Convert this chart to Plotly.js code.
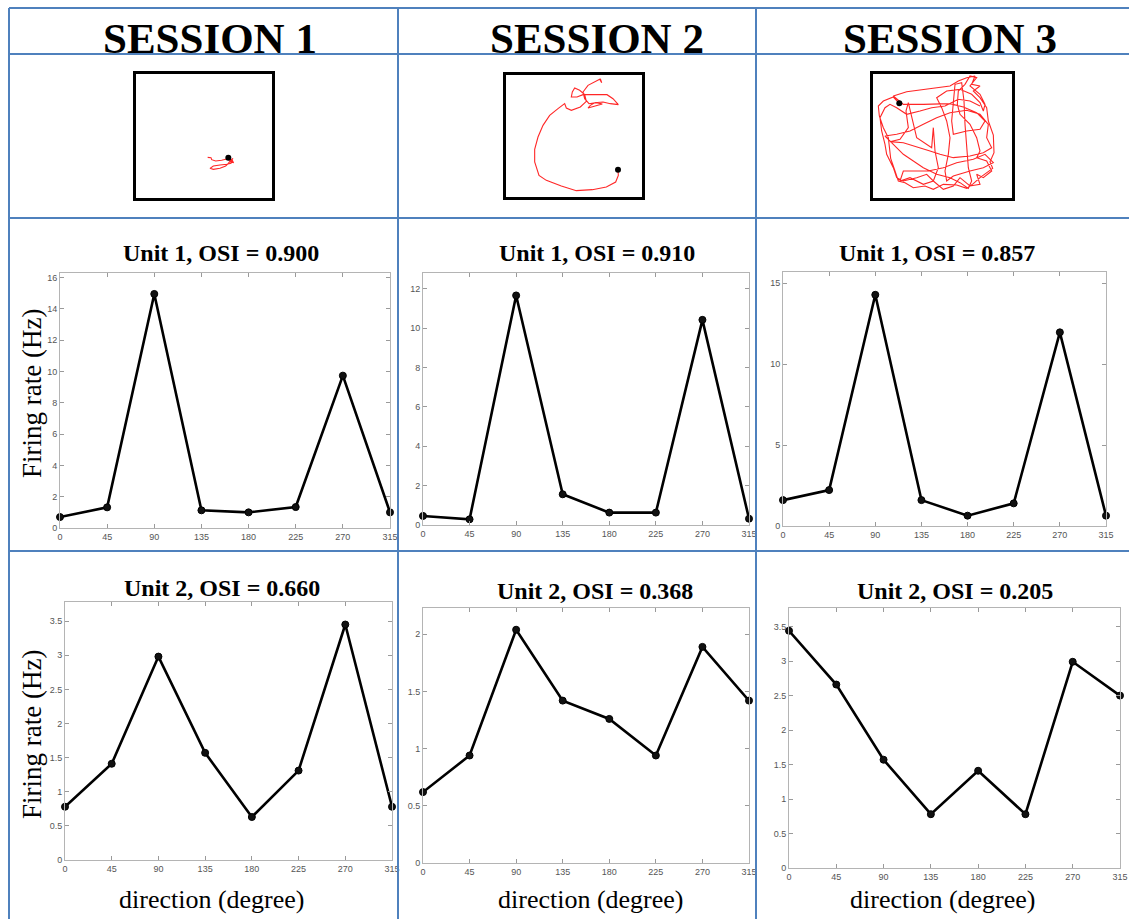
<!DOCTYPE html>
<html><head><meta charset="utf-8">
<script src="https://cdn.plot.ly/plotly-3.0.1.min.js"></script>
<style>html,body{margin:0;padding:0;background:#fff;}#chart{width:1129px;height:919px;}</style>
</head><body><div id="chart"></div>
<script>
// ---------------- data ----------------
const directions = [0, 45, 90, 135, 180, 225, 270, 315];
const sessionLabels = ['SESSION 1', 'SESSION 2', 'SESSION 3'];
const unit1Titles = ['Unit 1, OSI = 0.900', 'Unit 1, OSI = 0.910', 'Unit 1, OSI = 0.857'];
const unit2Titles = ['Unit 2, OSI = 0.660', 'Unit 2, OSI = 0.368', 'Unit 2, OSI = 0.205'];
const yAxisLabel = 'Firing rate (Hz)';
const xAxisLabel = 'direction (degree)';

// firing rates (Hz) per direction
const unit1Session1 = [0.70, 1.32, 14.96, 1.13, 1.00, 1.34, 9.74, 1.00];
const unit1Session2 = [0.46, 0.29, 11.66, 1.56, 0.63, 0.63, 10.42, 0.32];
const unit1Session3 = [1.60, 2.22, 14.29, 1.60, 0.64, 1.40, 11.97, 0.64];
const unit2Session1 = [0.78, 1.41, 2.98, 1.57, 0.63, 1.31, 3.45, 0.78];
const unit2Session2 = [0.62, 0.94, 2.04, 1.42, 1.26, 0.94, 1.89, 1.42];
const unit2Session3 = [3.44, 2.66, 1.57, 0.78, 1.41, 0.78, 2.99, 2.50];

// y tick values per panel
const yTicksU1S1 = [0, 2, 4, 6, 8, 10, 12, 14, 16];
const yTicksU1S2 = [0, 2, 4, 6, 8, 10, 12];
const yTicksU1S3 = [0, 5, 10, 15];
const yTicksU2S1 = [0, 0.5, 1, 1.5, 2, 2.5, 3, 3.5];
const yTicksU2S2 = [0, 0.5, 1, 1.5, 2];
const yTicksU2S3 = [0, 0.5, 1, 1.5, 2, 2.5, 3, 3.5];
const yMaxU1 = [16.3, 12.8, 15.7];
const yMaxU2 = [3.78, 2.23, 3.77];

// animal trajectories in the arena (arena units, y downward)
const traj1X = [224, 234, 236, 248, 266, 281, 289, 298, 294, 281, 261, 241, 231, 241, 261, 278, 286, 291, 300, 292, 302, 295, 288, 298, 290, 300];
const traj1Y = [259, 260, 266, 270, 268, 264, 267, 270, 277, 280, 282, 285, 292, 295, 292, 285, 277, 270, 262, 272, 275, 266, 262, 268, 274, 270];
const start1 = [286, 260];

const traj2X = [345, 346, 338, 310, 268, 220, 175, 130, 108, 95, 95, 105, 120, 140, 165, 185, 190, 205, 232, 250, 245, 230, 215, 208, 205, 222, 240, 270, 312, 330, 346, 322, 300, 275, 262, 255, 275, 298, 280, 258, 245, 240, 255, 275, 290, 296, 292];
const traj2Y = [293, 310, 330, 345, 353, 356, 342, 325, 310, 270, 232, 195, 160, 130, 110, 95, 108, 115, 105, 88, 68, 55, 48, 60, 75, 75, 68, 68, 68, 80, 98, 95, 90, 92, 100, 108, 102, 96, 92, 95, 80, 60, 40, 30, 22, 32, 20];
const start2 = [345, 293];

const traj3X = [88, 70, 40, 25, 28, 40, 55, 58, 62, 75, 85, 105, 130, 165, 190, 220, 260, 290, 310, 330, 350, 368, 360, 372, 370, 355, 350, 330, 310, 330, 305, 315, 290, 265, 240, 200, 150, 110, 70, 100, 160, 240, 280, 320, 345, 330, 290, 250, 245, 250, 255, 275, 282, 285, 290, 295, 305, 295, 270, 240, 200, 160, 130, 100, 70, 45, 80, 120, 160, 200, 240, 290, 330, 355, 350, 365, 340, 300, 250, 210, 180, 130, 100, 60, 90, 115, 108, 115, 125, 130, 140, 185, 190, 195, 205, 190, 160, 120, 90, 100, 130, 175, 220, 260, 310, 345, 370, 340, 300, 250, 230, 225, 235, 240, 230, 215, 200, 230, 270, 305, 330, 340,
  345, 330, 300, 320, 300, 285, 265, 262, 270, 300, 320, 330, 320, 350, 365, 340, 320, 330, 300, 270, 250, 220, 190, 170, 140, 100, 80, 70, 50, 45, 35, 30, 45, 60, 80, 110, 150, 185, 225, 265, 300, 330];
const traj3Y = [97, 78, 90, 105, 135, 170, 200, 230, 262, 300, 330, 335, 350, 345, 355, 340, 342, 352, 338, 320, 305, 292, 272, 245, 192, 150, 110, 80, 60, 45, 40, 15, 20, 30, 45, 50, 55, 62, 75, 100, 100, 98, 108, 125, 150, 175, 180, 190, 150, 90, 40, 35, 90, 160, 230, 290, 330, 352, 335, 320, 310, 290, 270, 250, 220, 195, 190, 180, 160, 140, 125, 118, 130, 160, 200, 230, 245, 255, 260, 250, 240, 225, 215, 212, 205, 170, 120, 95, 140, 165, 200, 230, 170, 240, 290, 330, 340, 320, 330, 300, 300, 300, 290, 275, 265, 250, 275, 290, 300, 315, 330, 300, 250, 200, 150, 110, 80, 60, 55, 70, 95, 120,
  100, 70, 45, 20, 15, 40, 60, 100, 130, 160, 200, 240, 260, 270, 300, 320, 310, 340, 345, 320, 345, 355, 330, 310, 320, 330, 320, 290, 250, 220, 180, 140, 110, 100, 110, 130, 120, 110, 105, 85, 90, 105];
const start3 = [88, 97];

// ---------------- layout helpers ----------------
const W = 1129, H = 919;
const px = x => x / W;
const py = y => 1 - y / H;
const serif = 'Liberation Serif, Times New Roman, serif';
const sans = 'Liberation Sans, Arial, sans-serif';

const panels = [
  {vals: unit1Session1, ticks: yTicksU1S1, ymax: yMaxU1[0], box: [60, 390, 273, 528]},
  {vals: unit1Session2, ticks: yTicksU1S2, ymax: yMaxU1[1], box: [423, 749, 273, 525]},
  {vals: unit1Session3, ticks: yTicksU1S3, ymax: yMaxU1[2], box: [783, 1106, 272, 526]},
  {vals: unit2Session1, ticks: yTicksU2S1, ymax: yMaxU2[0], box: [65, 392, 602, 860]},
  {vals: unit2Session2, ticks: yTicksU2S2, ymax: yMaxU2[1], box: [423, 749, 608, 863]},
  {vals: unit2Session3, ticks: yTicksU2S3, ymax: yMaxU2[2], box: [789, 1120, 608, 868]}
];

const arenas = [
  {x: traj1X, y: traj1Y, s: start1, box: [133, 275, 71, 201], w: 426, h: 390},
  {x: traj2X, y: traj2Y, s: start2, box: [503, 645, 72, 200], w: 426, h: 384},
  {x: traj3X, y: traj3Y, s: start3, box: [870, 1015, 71, 201], w: 435, h: 390}
];

const data = [];
const layout = {
  width: W, height: H, margin: {l: 0, r: 0, t: 0, b: 0},
  paper_bgcolor: '#ffffff', plot_bgcolor: '#ffffff', showlegend: false,
  shapes: [], annotations: []
};

panels.forEach((p, i) => {
  const n = i + 1;
  const sfx = n === 1 ? '' : String(n);
  const [l, r, t, b] = p.box;
  layout['xaxis' + sfx] = {
    domain: [px(l), px(r)], range: [0, 315], anchor: 'y' + sfx,
    tickvals: directions, ticktext: directions.map(String),
    ticks: 'inside', ticklen: 4, tickwidth: 1, tickcolor: '#9a9a9a',
    showline: true, linecolor: '#b4b4b4', linewidth: 1, mirror: 'allticks',
    showgrid: false, zeroline: false, fixedrange: true,
    tickfont: {family: sans, size: 9, color: '#555555'}
  };
  layout['yaxis' + sfx] = {
    domain: [py(b), py(t)], range: [0, p.ymax], anchor: 'x' + sfx,
    tickvals: p.ticks, ticktext: p.ticks.map(String),
    ticks: 'inside', ticklen: 4, tickwidth: 1, tickcolor: '#9a9a9a',
    showline: true, linecolor: '#b4b4b4', linewidth: 1, mirror: 'allticks',
    showgrid: false, zeroline: false, fixedrange: true,
    tickfont: {family: sans, size: 9, color: '#555555'}
  };
  data.push({
    type: 'scatter', mode: 'lines+markers', x: directions, y: p.vals,
    xaxis: 'x' + sfx, yaxis: 'y' + sfx, cliponaxis: false, hoverinfo: 'skip',
    line: {color: '#000000', width: 2.6},
    marker: {color: '#111111', size: 7, symbol: 'circle', line: {color: '#000', width: 1}}
  });
});

arenas.forEach((a, i) => {
  const n = i + 7;
  const [l, r, t, b] = a.box;
  layout['xaxis' + n] = {domain: [px(l), px(r)], range: [0, a.w], anchor: 'y' + n, visible: false, fixedrange: true};
  layout['yaxis' + n] = {domain: [py(b), py(t)], range: [a.h, 0], anchor: 'x' + n, visible: false, fixedrange: true};
  data.push({
    type: 'scatter', mode: 'lines', x: a.x, y: a.y, xaxis: 'x' + n, yaxis: 'y' + n,
    line: {color: 'rgba(255,0,0,0.85)', width: 1.1}, hoverinfo: 'skip'
  });
  data.push({
    type: 'scatter', mode: 'markers', x: [a.s[0]], y: [a.s[1]], xaxis: 'x' + n, yaxis: 'y' + n,
    marker: {color: '#000000', size: 6}, hoverinfo: 'skip'
  });
  layout.shapes.push({type: 'rect', xref: 'paper', yref: 'paper',
    x0: px(l + 1.5), x1: px(r - 1.5), y0: py(b - 1.5), y1: py(t + 1.5),
    line: {color: '#000000', width: 3}});
});

// table grid
const gridColor = '#4f81bd';
[8, 54, 218, 551].forEach(y => layout.shapes.push({type: 'line', xref: 'paper', yref: 'paper',
  x0: px(9), x1: 1, y0: py(y), y1: py(y), line: {color: gridColor, width: 2}}));
[9, 398, 756].forEach(x => layout.shapes.push({type: 'line', xref: 'paper', yref: 'paper',
  x0: px(x), x1: px(x), y0: py(8), y1: 0, line: {color: gridColor, width: 2}}));

// text
const ann = (text, x, y, size, bold, angle) => layout.annotations.push({
  text: bold ? '<b>' + text + '</b>' : text, xref: 'paper', yref: 'paper',
  x: px(x), y: py(y), xanchor: 'center', yanchor: 'middle', showarrow: false,
  textangle: angle || 0, font: {family: serif, size: size, color: '#000000'}
});
const sessionX = [210, 597, 950];
sessionLabels.forEach((s, i) => ann(s, sessionX[i], 38, 43, true));
const t1x = [221, 597, 937], t2x = [222, 595, 955];
unit1Titles.forEach((s, i) => ann(s, t1x[i], 253, 24, true));
const t2y = [588, 591, 591];
unit2Titles.forEach((s, i) => ann(s, t2x[i], t2y[i], 24, true));
ann(yAxisLabel, 32, 394, 27, false, -90);
ann(yAxisLabel, 32, 735, 27, false, -90);
[212, 591, 943].forEach(x => ann(xAxisLabel, x, 899, 26, false));

Plotly.newPlot('chart', data, layout, {staticPlot: true, displayModeBar: false});
</script>
</body></html>
